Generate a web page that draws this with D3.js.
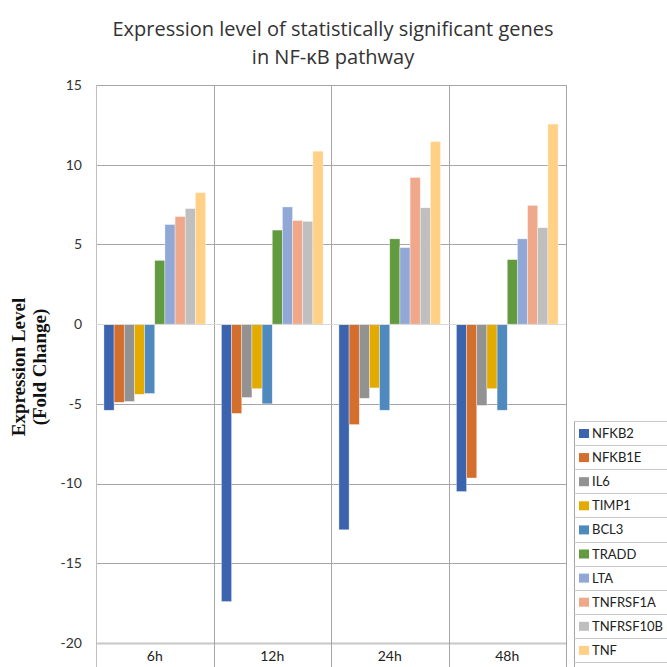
<!DOCTYPE html>
<html>
<head>
<meta charset="utf-8">
<script src="https://cdn.jsdelivr.net/npm/d3@7"></script>
<style>
  body { margin: 0; background: #fff; }
  svg { display: block; }
</style>
</head>
<body>
<script>
// data
var timepoints = ["6h", "12h", "24h", "48h"];
var genes = ["NFKB2", "NFKB1E", "IL6", "TIMP1", "BCL3", "TRADD", "LTA", "TNFRSF1A", "TNFRSF10B", "TNF"];
var colours = ["#3c63ad", "#d36e2c", "#929292", "#e3aa00", "#4f8abf", "#629a3f", "#91a7d6", "#f0a88b", "#bfbfbf", "#ffd085"];
// fold change per gene, one value per timepoint
var NFKB2 = [-5.4, -17.4, -12.9, -10.5];
var NFKB1E = [-4.9, -5.6, -6.3, -9.65];
var IL6 = [-4.85, -4.6, -4.65, -5.1];
var TIMP1 = [-4.4, -4.05, -4.0, -4.05];
var BCL3 = [-4.35, -5.0, -5.4, -5.4];
var TRADD = [4.0, 5.9, 5.35, 4.05];
var LTA = [6.25, 7.35, 4.8, 5.35];
var TNFRSF1A = [6.75, 6.5, 9.2, 7.45];
var TNFRSF10B = [7.25, 6.45, 7.3, 6.05];
var TNF = [8.25, 10.85, 11.45, 12.55];
var yTicks = [15, 10, 5, 0, -5, -10, -15, -20];

var seriesValues = [NFKB2, NFKB1E, IL6, TIMP1, BCL3, TRADD, LTA, TNFRSF1A, TNFRSF10B, TNF];

(function() {
    var width = 667;
    var height = 667;

    var svg = d3.select("body")
        .append("svg")
        .attr("width", width)
        .attr("height", height);

    // plot area
    var plotLeft = 96, plotRight = 566, plotTop = 85, plotBottom = 643;

    var x0 = d3.scaleBand()
        .domain(timepoints)
        .range([plotLeft, plotRight])
        .padding(0);

    var x1 = d3.scaleBand()
        .domain(genes)
        .range([0, x0.bandwidth()])
        .paddingInner(0)
        .paddingOuter(0.78);

    var y = d3.scaleLinear()
        .domain([-20, 15])
        .range([plotBottom, plotTop]);

    var colour = d3.scaleOrdinal()
        .domain(genes)
        .range(colours);

    // horizontal gridlines
    svg.append("g")
        .selectAll("line")
        .data(yTicks)
        .enter()
        .append("line")
        .attr("x1", plotLeft)
        .attr("x2", plotRight)
        .attr("y1", function(d) { return Math.round(y(d)) + 0.5; })
        .attr("y2", function(d) { return Math.round(y(d)) + 0.5; })
        .attr("stroke", function(d) { return d == -20 ? "#c8c8c8" : "#a6a6a6"; })
        .attr("stroke-width", function(d) { return d == -20 ? 2 : 1; });

    // vertical separators between time points (run down through the label row)
    var bounds = timepoints.map(function(t) { return x0(t); }).concat([plotRight]);
    svg.append("g")
        .selectAll("line")
        .data(bounds)
        .enter()
        .append("line")
        .attr("x1", function(d) { return Math.round(d) + 0.5; })
        .attr("x2", function(d) { return Math.round(d) + 0.5; })
        .attr("y1", plotTop)
        .attr("y2", height)
        .attr("stroke", function(d, i) { return i == 0 ? "#bfbfbf" : "#a6a6a6"; })
        .attr("stroke-width", 1);

    // y tick labels
    svg.append("g")
        .selectAll("text")
        .data(yTicks)
        .enter()
        .append("text")
        .attr("x", 82)
        .attr("y", function(d) { return y(d); })
        .attr("dy", "0.35em")
        .attr("text-anchor", "end")
        .style("font-family", "Lato, 'Open Sans', sans-serif")
        .style("font-size", "14px")
        .style("fill", "#333")
        .text(function(d) { return d; });

    // bars
    var group = svg.selectAll(".group")
        .data(timepoints)
        .enter()
        .append("g")
        .attr("class", "group")
        .attr("transform", function(d) { return "translate(" + x0(d) + ",0)"; });

    group.selectAll("rect")
        .data(function(t, ti) {
            return genes.map(function(g, gi) {
                return { gene: g, value: seriesValues[gi][ti] };
            });
        })
        .enter()
        .append("rect")
        .attr("x", function(d) { return x1(d.gene); })
        .attr("width", x1.bandwidth())
        .attr("y", function(d) { return y(Math.max(0, d.value)); })
        .attr("height", function(d) { return Math.abs(y(d.value) - y(0)); })
        .attr("fill", function(d) { return colour(d.gene); })
        .attr("stroke", "#ffffff")
        .attr("stroke-opacity", 0.6)
        .attr("stroke-width", 0.6);

    // zero line on top of bars
    svg.append("line")
        .attr("x1", plotLeft)
        .attr("x2", plotRight)
        .attr("y1", Math.round(y(0)) + 0.5)
        .attr("y2", Math.round(y(0)) + 0.5)
        .attr("stroke", "#d9d9d9")
        .attr("stroke-width", 1);

    // category labels under the plot
    svg.append("g")
        .selectAll("text")
        .data(timepoints)
        .enter()
        .append("text")
        .attr("x", function(d) { return x0(d) + x0.bandwidth() / 2; })
        .attr("y", 661)
        .attr("text-anchor", "middle")
        .style("font-family", "Lato, 'Open Sans', sans-serif")
        .style("font-size", "14px")
        .style("fill", "#222")
        .text(function(d) { return d; });

    // title
    var title = svg.append("text")
        .attr("text-anchor", "middle")
        .style("font-family", "'Open Sans', 'Noto Sans', sans-serif")
        .style("font-size", "20px")
        .style("fill", "#333");
    title.append("tspan")
        .attr("x", 333)
        .attr("y", 36)
        .text("Expression level of statistically significant genes");
    title.append("tspan")
        .attr("x", 333)
        .attr("y", 64)
        .text("in NF-\u03baB pathway");

    // y axis title, two rotated lines
    var yTitle = svg.append("text")
        .attr("transform", "translate(0,367) rotate(-90)")
        .attr("text-anchor", "middle")
        .style("font-family", "'Liberation Serif', 'Times New Roman', serif")
        .style("font-weight", "bold")
        .style("font-size", "19px")
        .style("fill", "#111");
    yTitle.append("tspan")
        .attr("x", 0)
        .attr("y", 25)
        .text("Expression Level");
    yTitle.append("tspan")
        .attr("x", 0)
        .attr("y", 46)
        .text("(Fold Change)");

    // legend, drawn as a table with ruled rows
    var legLeft = 574, legTop = 421, rowH = 24.1;
    var legend = svg.append("g");

    legend.append("line")
        .attr("x1", legLeft + 0.5)
        .attr("x2", legLeft + 0.5)
        .attr("y1", legTop)
        .attr("y2", height)
        .attr("stroke", "#a6a6a6");

    legend.selectAll(".rule")
        .data(d3.range(genes.length + 1))
        .enter()
        .append("line")
        .attr("class", "rule")
        .attr("x1", legLeft)
        .attr("x2", width)
        .attr("y1", function(i) { return Math.round(legTop + i * rowH) + 0.5; })
        .attr("y2", function(i) { return Math.round(legTop + i * rowH) + 0.5; })
        .attr("stroke", "#c8c8c8");

    var item = legend.selectAll(".item")
        .data(genes)
        .enter()
        .append("g")
        .attr("class", "item")
        .attr("transform", function(d, i) { return "translate(" + legLeft + "," + (legTop + i * rowH) + ")"; });

    item.append("rect")
        .attr("x", 5)
        .attr("y", 8)
        .attr("width", 10)
        .attr("height", 9)
        .attr("fill", function(d) { return colour(d); });

    item.append("text")
        .attr("x", 18)
        .attr("y", 17)
        .style("font-family", "Lato, 'Open Sans', sans-serif")
        .style("font-size", "13px")
        .style("fill", "#222")
        .text(function(d) { return d; });
})();
</script>
</body>
</html>
